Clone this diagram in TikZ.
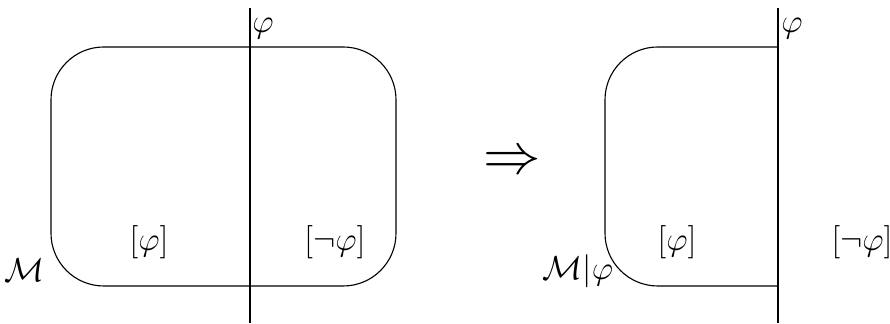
\documentclass[tikz,border=0pt]{standalone}
\usepackage{amsmath}
\usepackage{amssymb}
\usepackage{tikz}
\usetikzlibrary{positioning, calc}
\tikzset{
	model/.style    ={draw=black, rounded corners=0.67cm},
	cut/.style      ={draw=black},
	region/.style   ={inner sep=0pt, font=\large},
	lbl/.style      ={inner sep=0pt, font=\large},
}

\begin{document}
\begin{tikzpicture}[x=0.0127cm, y=-0.0127cm]
	\useasboundingbox (0,0) rectangle (890,324);
	% left: the model, cut by phi
	\draw[model] (51,47) rectangle (396,286);
	\coordinate (cutTopL) at (250,8);
	\coordinate (cutBotL) at (250,323);
	\draw[cut] (cutTopL) -- (cutBotL);
	\node[lbl] (phiL) at (263,29) {$\varphi$};
	\node[region] (inL) at (149,242) {$[\varphi]$};
	\node[region] (outL) at (335,242) {$[\neg\varphi]$};
	\node[lbl] (modelL) at (24,270) {$\mathcal{M}$};
	% step
	\node[lbl, font=\huge] (implies) at (512,163) {$\Rightarrow$};
	% right: the restricted model
	\draw[model] (778,47) -| (605,286) -- (778,286);
	\coordinate (cutTopR) at (778,8);
	\coordinate (cutBotR) at (778,323);
	\draw[cut] (cutTopR) -- (cutBotR);
	\node[lbl] (phiR) at (792,29) {$\varphi$};
	\node[region] (inR) at (677,242) {$[\varphi]$};
	\node[region] (outR) at (862,242) {$[\neg\varphi]$};
	\node[lbl] (modelR) at (578,271) {$\mathcal{M}|\varphi$};
\end{tikzpicture}
\end{document}
